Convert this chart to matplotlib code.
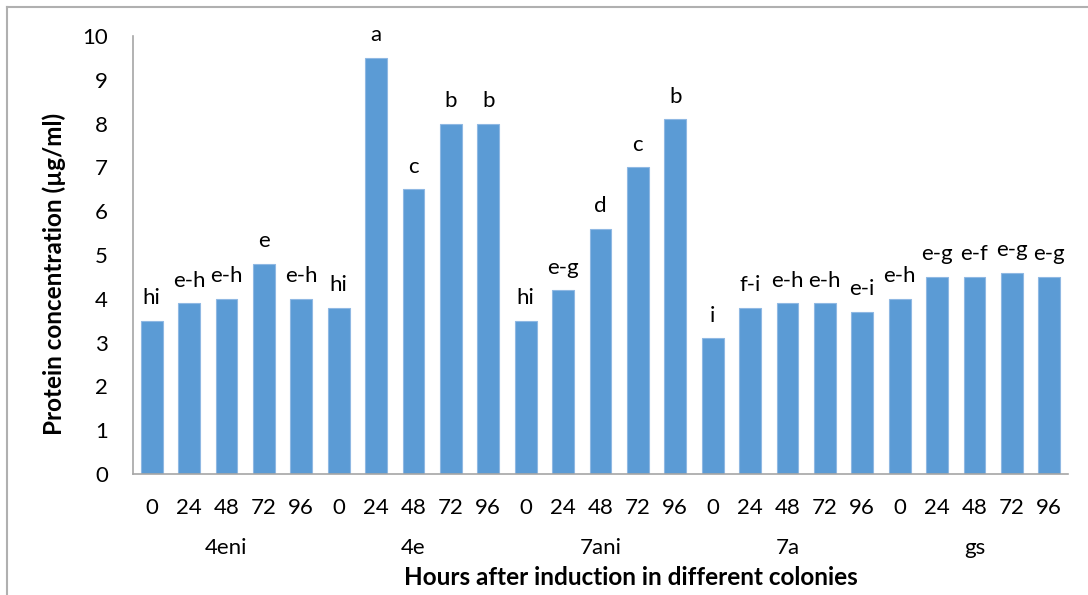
import numpy as np
import matplotlib.pyplot as plt
from matplotlib.lines import Line2D

plt.rcParams['font.family'] = ['Lato', 'DejaVu Sans']

# data
colonies = ['4eni', '4e', '7ani', '7a', 'gs']
hours = ['0', '24', '48', '72', '96']
protein = [3.5, 3.9, 4.0, 4.8, 4.0,
           3.8, 9.5, 6.5, 8.0, 8.0,
           3.5, 4.2, 5.6, 7.0, 8.1,
           3.1, 3.8, 3.9, 3.9, 3.7,
           4.0, 4.5, 4.5, 4.6, 4.5]
letters = ['hi', 'e-h', 'e-h', 'e', 'e-h',
           'hi', 'a', 'c', 'b', 'b',
           'hi', 'e-g', 'd', 'c', 'b',
           'i', 'f-i', 'e-h', 'e-h', 'e-i',
           'e-h', 'e-g', 'e-f', 'e-g', 'e-g']

x = np.arange(len(protein))
fig = plt.figure(figsize=(10.88, 5.95), dpi=100)
ax = fig.add_axes([0.1222, 0.2034, 0.8594, 0.7361])

bars = ax.bar(x, protein, width=0.58, color='#5B9BD5', edgecolor='#8FB8E3', linewidth=0.8)
for xi, v, lab in zip(x, protein, letters):
    ax.annotate(lab, (xi, v), xytext=(0, 9), textcoords='offset points',
                ha='center', va='bottom', fontsize=16)

ax.set_xlim(-0.5, len(protein) - 0.5)
ax.set_ylim(0, 10)
ax.set_yticks(range(0, 11))
ax.set_xticks(x)
ax.set_xticklabels(hours * len(colonies))
ax.tick_params(axis='both', length=0, labelsize=16)
ax.tick_params(axis='x', pad=17)
ax.tick_params(axis='y', pad=18)
for s in ['top', 'right']:
    ax.spines[s].set_visible(False)
for s in ['left', 'bottom']:
    ax.spines[s].set_color('#A6A6A6')
    ax.spines[s].set_linewidth(1.2)

# colony names under each group of five
for i, c in enumerate(colonies):
    ax.text(i * 5 + 2, -0.169, c, transform=ax.get_xaxis_transform(),
            ha='center', va='center', fontsize=16)

fig.text(0.58, 0.03, 'Hours after induction in different colonies',
         ha='center', va='center', fontsize=17.5, fontweight='bold')
fig.text(0.05, 0.54, 'Protein concentration (\u00b5g/ml)', rotation=90,
         ha='center', va='center', fontsize=17.5, fontweight='bold')

# chart area frame (top and left edges visible)
fig.add_artist(Line2D([0.0064, 1.0], [0.9885, 0.9885], color='#B0B0B0', lw=1.5,
                      transform=fig.transFigure))
fig.add_artist(Line2D([0.0064, 0.0064], [0.0, 0.9885], color='#B0B0B0', lw=1.5,
                      transform=fig.transFigure))

fig.savefig('out.png', dpi=100)
